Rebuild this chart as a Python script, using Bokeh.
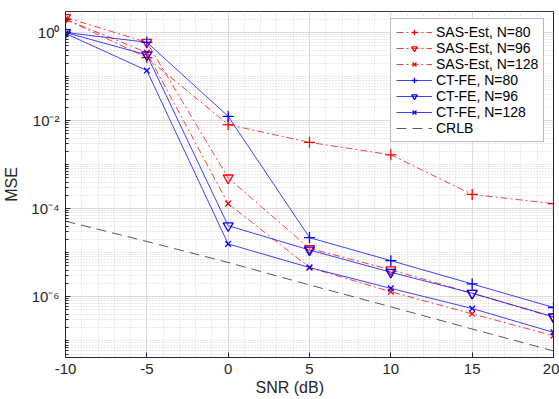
from bokeh.plotting import figure
from bokeh.models import (Range1d, FixedTicker, Legend, LegendItem, CustomJSTickFormatter, Title)
from bokeh.embed import file_html
from bokeh.resources import INLINE

snr = [-10, -5, 0, 5, 10, 15, 20]
sas80 = [2.0, 0.27, 8.1e-3, 3.2e-3, 1.67e-3, 2.1e-4, 1.3e-4]
sas96 = [2.2, 0.6, 5.0e-4, 1.25e-5, 4.1e-6, 1.2e-6, 3.4e-7]
sas128 = [2.0, 0.35, 1.3e-4, 4.6e-6, 1.3e-6, 4.1e-7, 1.3e-7]
ct80 = [1.0, 0.6, 1.25e-2, 2.2e-5, 6.6e-6, 1.95e-6, 5.7e-7]
ct96 = [1.0, 0.31, 4.1e-5, 1.15e-5, 3.6e-6, 1.2e-6, 3.5e-7]
ct128 = [0.95, 0.137, 1.58e-5, 4.6e-6, 1.55e-6, 5.4e-7, 1.55e-7]
crlb = [5.2e-5, 1.8e-5, 6.0e-6, 1.85e-6, 5.9e-7, 1.85e-7, 5.9e-8]

x_ticks = [-10, -5, 0, 5, 10, 15, 20]
y_ticks = [1e-6, 1e-4, 1e-2, 1.0]

FONT = "Liberation Sans"
TXT = "#262626"

p = figure(width=559, height=399, y_axis_type="log", output_backend="svg",
           toolbar_location=None, x_range=Range1d(-10, 20),
           y_range=Range1d(10 ** -7.38, 10 ** 0.477),
           min_border_left=20, min_border_right=6, min_border_top=11, min_border_bottom=42)
p.background_fill_color = "white"
p.border_fill_color = "white"
p.outline_line_color = TXT
p.outline_line_width = 1

minor_y = []
for e in range(-8, 1):
    for k in range(1, 10):
        v = k * 10.0 ** e
        if v not in y_ticks:
            minor_y.append(v)
minor_x = [v for v in range(-10, 21) if v % 5 != 0]

yt = FixedTicker(ticks=y_ticks, minor_ticks=minor_y)
xt = FixedTicker(ticks=x_ticks, minor_ticks=minor_x)

yfmt = CustomJSTickFormatter(code="""
const sup = {'0':'\u2070','1':'\u00b9','2':'\u00b2','3':'\u00b3','4':'\u2074','5':'\u2075',
             '6':'\u2076','7':'\u2077','8':'\u2078','9':'\u2079','-':'\u207b'};
const e = Math.round(Math.log10(tick));
return '10' + String(e).split('').map(c => sup[c]).join('');
""")
xfmt = CustomJSTickFormatter(code="return String(Math.round(tick));")

p.yaxis.ticker = yt
p.yaxis.formatter = yfmt
p.xaxis.ticker = xt
p.xaxis.formatter = xfmt

for ax in list(p.xaxis) + list(p.yaxis):
    ax.major_tick_in = 5
    ax.major_tick_out = 0
    ax.minor_tick_in = 3
    ax.minor_tick_out = 0
    ax.axis_line_color = TXT
    ax.major_tick_line_color = TXT
    ax.minor_tick_line_color = TXT
    ax.major_label_text_font = FONT
    ax.major_label_text_font_size = "15px"
    ax.major_label_text_color = TXT
    ax.axis_label_text_font = FONT
    ax.axis_label_text_font_size = "16px"
    ax.axis_label_text_font_style = "normal"
    ax.axis_label_text_color = TXT

p.yaxis.axis_label = "MSE"
p.xaxis.major_label_standoff = 6
p.yaxis.major_label_standoff = 6
p.yaxis.axis_label_standoff = 8
p.xaxis.minor_tick_in = 0

# x-axis title, placed as in the reference (slightly left of centre)
xtitle = Title(text="SNR (dB)", align="left", offset=190, text_font=FONT,
               text_font_size="16px", text_font_style="normal", text_color=TXT, standoff=0)
p.add_layout(xtitle, "below")

# grids
p.xgrid.ticker = xt
p.ygrid.ticker = yt
p.xgrid.grid_line_color = "#dcdcdc"
p.ygrid.grid_line_color = "#dcdcdc"
p.xgrid.minor_grid_line_color = "#c8c8c8"
p.ygrid.minor_grid_line_color = "#c8c8c8"
p.xgrid.minor_grid_line_dash = "1 2"
p.ygrid.minor_grid_line_dash = "1 2"
p.xgrid.minor_grid_line_alpha = 0.8
p.ygrid.minor_grid_line_alpha = 0.8

RED = "#ff0000"
BLUE = "#0000ff"
series = [
    ("SAS-Est, N=80", sas80, RED, "cross", "7 3 2 3", 11),
    ("SAS-Est, N=96", sas96, RED, "inverted_triangle", "7 3 2 3", 10),
    ("SAS-Est, N=128", sas128, RED, "x", "7 3 2 3", 8),
    ("CT-FE, N=80", ct80, BLUE, "cross", "solid", 11),
    ("CT-FE, N=96", ct96, BLUE, "inverted_triangle", "solid", 10),
    ("CT-FE, N=128", ct128, BLUE, "x", "solid", 8),
]
items = []
for label, ys, col, mk, dash, sz in series:
    ln = p.line(snr, ys, line_color=col, line_dash=dash, line_width=1, line_alpha=0.75)
    sc = p.scatter(snr, ys, marker=mk, size=sz, line_color=col, fill_color=None, line_width=1.3)
    items.append(LegendItem(label=label, renderers=[ln, sc]))
lc = p.line(snr, crlb, line_color="#303030", line_dash="10 6", line_width=1, line_alpha=0.8)
items.append(LegendItem(label="CRLB", renderers=[lc]))

leg = Legend(items=items, location=(325, 215))
leg.label_text_font = FONT
leg.label_text_font_size = "14px"
leg.label_text_color = "#000000"
leg.label_height = 14
leg.glyph_height = 14
leg.glyph_width = 36
leg.label_standoff = 4
leg.spacing = 0
leg.padding = 5
leg.margin = 0
leg.border_line_color = "#777777"
leg.border_line_width = 1
leg.background_fill_color = "white"
leg.background_fill_alpha = 1
p.add_layout(leg, "center")

open("out.html", "w").write(file_html(p, INLINE))
